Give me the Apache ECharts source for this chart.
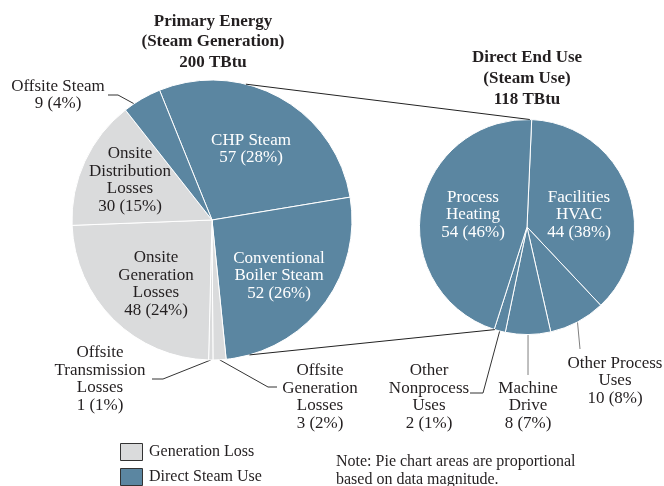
<!DOCTYPE html>
<html>
<head>
<meta charset="utf-8">
<script src="https://cdn.jsdelivr.net/npm/echarts@6/dist/echarts.min.js"></script>
<style>
  html, body { margin: 0; padding: 0; background: #fff; }
  #main { width: 664px; height: 486px; }
</style>
</head>
<body>
<div id="main"></div>
<script>
// primary energy pie, clockwise from the CHP slice
var primaryNames = ['CHP Steam', 'Conventional Boiler Steam', 'Offsite Generation Losses',
  'Offsite Transmission Losses', 'Onsite Generation Losses', 'Onsite Distribution Losses', 'Offsite Steam'];
var primaryLabels = ['CHP Steam', 'Conventional\nBoiler Steam', 'Offsite\nGeneration\nLosses',
  'Offsite\nTransmission\nLosses', 'Onsite\nGeneration\nLosses', 'Onsite\nDistribution\nLosses', 'Offsite Steam'];
var primaryValues = [57, 52, 3, 1, 48, 30, 9];
var primaryPct = [28, 26, 2, 1, 24, 15, 4];
var primaryKind = ['use', 'use', 'loss', 'loss', 'loss', 'loss', 'use'];

// end use pie, clockwise from the top
var endNames = ['Facilities HVAC', 'Other Process Uses', 'Machine Drive', 'Other Nonprocess Uses', 'Process Heating'];
var endLabels = ['Facilities\nHVAC', 'Other Process\nUses', 'Machine\nDrive', 'Other\nNonprocess\nUses', 'Process\nHeating'];
var endValues = [44, 10, 8, 2, 54];
var endPct = [38, 8, 7, 1, 46];

var legendNames = ['Generation Loss', 'Direct Steam Use'];

var BLUE = '#5b86a1', GRAY = '#dadbdc', INK = '#231f20';
var FONT = '"Liberation Serif", "Times New Roman", serif';

var sum = function (a) { return a.reduce(function (s, v) { return s + v; }, 0); };
var primaryTotal = sum(primaryValues), endTotal = sum(endValues);

// areas proportional to totals
var R1 = 140, R2 = R1 * Math.sqrt(endTotal / primaryTotal);
var C1 = [212, 220], C2 = [527, 227];

// label placement (text block centres), leader bends/ends
var labelPos = {
  'CHP Steam': [251, 149], 'Conventional Boiler Steam': [279, 276],
  'Offsite Generation Losses': [320, 397], 'Offsite Transmission Losses': [100, 379],
  'Onsite Generation Losses': [156, 284], 'Onsite Distribution Losses': [130, 180],
  'Offsite Steam': [58, 95],
  'Facilities HVAC': [579, 215], 'Process Heating': [473, 215],
  'Other Process Uses': [615, 381], 'Machine Drive': [528, 406], 'Other Nonprocess Uses': [429, 397]
};
var leaders = {
  'Offsite Steam': { inset: 0.89, bend: [118, 95], end: [108, 95] },
  'Offsite Transmission Losses': { inset: 1, bend: [163, 379], end: [152, 379] },
  'Offsite Generation Losses': { inset: 1, bend: [268, 387], end: [277, 387] },
  'Other Nonprocess Uses': { inset: 1, bend: [483, 393], end: [470, 393] },
  'Machine Drive': { inset: 1, bend: [528, 375], end: [528, 375] },
  'Other Process Uses': { inset: 1, bend: [580, 349], end: [580, 349] }
};

function onCircle(c, r, degCw) {
  var a = degCw * Math.PI / 180;
  return [c[0] + r * Math.sin(a), c[1] - r * Math.cos(a)];
}

function buildData(names, values, kinds) {
  return names.map(function (n, i) {
    var out = !!leaders[n];
    var gray = kinds ? kinds[i] === 'loss' : false;
    return {
      name: n, value: values[i],
      itemStyle: { color: gray ? GRAY : BLUE },
      label: { position: out ? 'outside' : 'inside', color: (out || gray) ? INK : '#fff' },
      labelLine: { show: out, lineStyle: { color: (n === 'Machine Drive' || n === 'Other Process Uses') ? '#7f7f7f' : '#333', width: 1 } }
    };
  });
}

function makeLayout(names, center) {
  return function (p) {
    var n = names[p.dataIndex];
    var pos = labelPos[n];
    var res = { x: pos[0], y: pos[1], align: 'center', verticalAlign: 'middle' };
    var ld = leaders[n];
    if (ld && p.labelLinePoints) {
      var s = p.labelLinePoints[0];
      var st = [center[0] + (s[0] - center[0]) * ld.inset, center[1] + (s[1] - center[1]) * ld.inset];
      res.labelLinePoints = [st, ld.bend, ld.end];
    }
    return res;
  };
}

function pieSeries(names, labels, values, pct, kinds, center, r, start) {
  return {
    type: 'pie', center: center, radius: r, startAngle: start, clockwise: true,
    avoidLabelOverlap: false, silent: true, animation: false,
    itemStyle: { borderColor: '#fff', borderWidth: 1 },
    label: {
      fontFamily: FONT, fontSize: 17, lineHeight: 17.5, align: 'center',
      formatter: function (p) { return labels[p.dataIndex] + '\n' + p.value + ' (' + pct[p.dataIndex] + '%)'; }
    },
    labelLine: { length: 10, length2: 10, smooth: false },
    labelLayout: makeLayout(names, center),
    data: buildData(names, values, kinds)
  };
}

var topL = onCircle(C1, R1, 14), botL = onCircle(C1, R1, 164.5);
var topR = onCircle(C2, R2, 1.5), botR = onCircle(C2, R2, 197.4);

var graphics = [
  { type: 'line', z: 10, shape: { x1: topL[0], y1: topL[1], x2: topR[0], y2: topR[1] }, style: { stroke: '#222', lineWidth: 1 } },
  { type: 'line', z: 10, shape: { x1: botL[0], y1: botL[1], x2: botR[0], y2: botR[1] }, style: { stroke: '#222', lineWidth: 1 } },
  { type: 'text', x: 213, y: 11, style: { text: 'Primary Energy\n(Steam Generation)\n200 TBtu', align: 'center', verticalAlign: 'top',
      fontFamily: FONT, fontSize: 17, fontWeight: 'bold', lineHeight: 20.5, fill: INK } },
  { type: 'text', x: 527, y: 47, style: { text: 'Direct End Use\n(Steam Use)\n118 TBtu', align: 'center', verticalAlign: 'top',
      fontFamily: FONT, fontSize: 17, fontWeight: 'bold', lineHeight: 21, fill: INK } },
  { type: 'text', x: 336, y: 453, style: { text: 'Note: Pie chart areas are proportional\nbased on data magnitude.', align: 'left', verticalAlign: 'top',
      fontFamily: FONT, fontSize: 16, lineHeight: 18, fill: INK } }
];
legendNames.forEach(function (n, i) {
  var y = 443 + i * 25;
  graphics.push({ type: 'rect', shape: { x: 120.5, y: y + 0.5, width: 22, height: 17 },
    style: { fill: i === 0 ? GRAY : BLUE, stroke: '#333', lineWidth: 1 } });
  graphics.push({ type: 'text', x: 149, y: y + 9, style: { text: n, align: 'left', verticalAlign: 'middle',
    fontFamily: FONT, fontSize: 16, fill: INK } });
});

var chart = echarts.init(document.getElementById('main'));
chart.setOption({
  animation: false,
  series: [
    pieSeries(primaryNames, primaryLabels, primaryValues, primaryPct, primaryKind, C1, R1, 112),
    pieSeries(endNames, endLabels, endValues, endPct, null, C2, R2, 87.5)
  ],
  graphic: graphics
});
</script>
</body>
</html>
